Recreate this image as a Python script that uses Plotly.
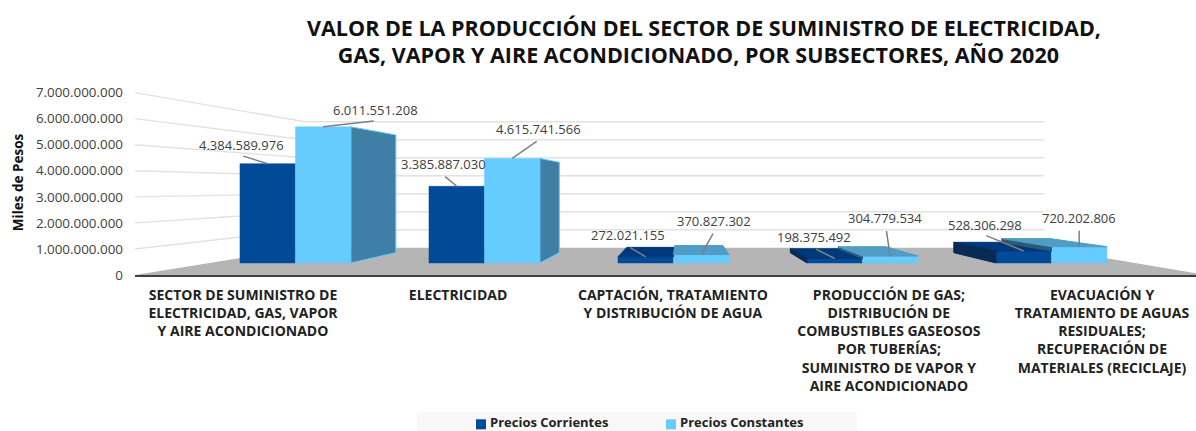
import plotly.graph_objects as go

categories = [
    "SECTOR DE SUMINISTRO DE<br>ELECTRICIDAD, GAS, VAPOR<br>Y AIRE ACONDICIONADO",
    "ELECTRICIDAD",
    "CAPTACIÓN, TRATAMIENTO<br>Y DISTRIBUCIÓN DE AGUA",
    "PRODUCCIÓN DE GAS;<br>DISTRIBUCIÓN DE<br>COMBUSTIBLES GASEOSOS<br>POR TUBERÍAS;<br>SUMINISTRO DE VAPOR Y<br>AIRE ACONDICIONADO",
    "EVACUACIÓN Y<br>TRATAMIENTO DE AGUAS<br>RESIDUALES;<br>RECUPERACIÓN DE<br>MATERIALES (RECICLAJE)",
]
corrientes = [4384589976, 3385887030, 272021155, 198375492, 528306298]
constantes = [6011551208, 4615741566, 370827302, 304779534, 720202806]
axis_ticks = [0, 1e9, 2e9, 3e9, 4e9, 5e9, 6e9, 7e9]

FONT = "Open Sans"
TXT = "#404040"
DARK, LIGHT = "#004A98", "#66CCFF"
DARK_TOP, LIGHT_TOP = "#00387C", "#4F9CC4"
DARK_LEFT, LIGHT_LEFT = "#0A2A55", "#2C5A78"
LIGHT_SIDE = "#3F7FA6"

# Perspective model. Primary axes: front plane of the floor.
WALL_T = 0.31
VX0, VY0 = 2.511, 3.385e9
FLOOR_X0, FLOOR_X1 = 0.0, 4.9
# Bar plane axes (x2, y2)
BAR_T = 0.135
VX2, VY2 = 2.055, 3.363e9
HALF = 0.2935


def prj(x, v, t, vx, vy):
    return x + t * (vx - x), v + t * (vy - v)


fig = go.Figure()

# Floor and walls on the primary axes
bl = prj(FLOOR_X0, 0, WALL_T, VX0, VY0)
br = prj(FLOOR_X1, 0, WALL_T, VX0, VY0)
fig.add_trace(go.Scatter(
    x=[FLOOR_X0, bl[0], br[0], FLOOR_X1, FLOOR_X0], y=[0, bl[1], br[1], 0, 0],
    mode="lines", fill="toself", fillcolor="#B5B5B5", line=dict(width=0),
    showlegend=False, hoverinfo="skip"))
gx, gy = [], []
for v in axis_ticks[1:]:
    a = prj(FLOOR_X0, v, WALL_T, VX0, VY0)
    b = prj(FLOOR_X1, v, WALL_T, VX0, VY0)
    gx += [FLOOR_X0, a[0], b[0], None]
    gy += [v, a[1], b[1], None]
fig.add_trace(go.Scatter(x=gx, y=gy, mode="lines", line=dict(color="#E2E2E2", width=1.4),
                         showlegend=False, hoverinfo="skip"))

# Front faces
ids = list(range(5))
fig.add_trace(go.Bar(name="Precios Corrientes", x=ids, y=corrientes, xaxis="x2", yaxis="y2",
                     showlegend=False, marker=dict(color=DARK, line=dict(color=DARK, width=0.5))))
fig.add_trace(go.Bar(name="Precios Constantes", x=ids, y=constantes, xaxis="x2", yaxis="y2",
                     showlegend=False, marker=dict(color=LIGHT, line=dict(color=LIGHT, width=0.5))))


def face_trace(polys, color, edge=None):
    xs, ys = [], []
    for p in polys:
        for q in p + [p[0]]:
            xs.append(q[0])
            ys.append(q[1])
        xs.append(None)
        ys.append(None)
    fig.add_trace(go.Scatter(x=xs, y=ys, xaxis="x2", yaxis="y2", mode="lines", fill="toself",
                             fillcolor=color, line=dict(color=edge or color, width=1),
                             showlegend=False, hoverinfo="skip"))


def top(x0, x1, v):
    return [(x0, v), (x1, v), prj(x1, v, BAR_T, VX2, VY2), prj(x0, v, BAR_T, VX2, VY2)]


def wall(x, v0, v1):
    return [(x, v0), (x, v1), prj(x, v1, BAR_T, VX2, VY2), prj(x, v0, BAR_T, VX2, VY2)]


dark_tops, dark_lefts, light_tops, light_lefts, light_rights = [], [], [], [], []
for i, (d, c) in enumerate(zip(corrientes, constantes)):
    xl, xm, xr = i - HALF, i, i + HALF
    if d < VY2:
        dark_tops.append(top(xl, xm, d))
    if c < VY2:
        light_tops.append(top(xm, xr, c))
    if xl > VX2:
        dark_lefts.append(wall(xl, 0, d))
    if xm > VX2 and c > d:
        light_lefts.append(wall(xm, d, c))
    if xr < VX2:
        light_rights.append(wall(xr, 0, c))

face_trace(dark_tops, DARK_TOP)
face_trace(dark_lefts, DARK_LEFT)
face_trace(light_lefts, LIGHT_LEFT)
face_trace(light_tops, LIGHT_TOP)
face_trace(light_rights, LIGHT_SIDE, LIGHT)

# Leader offsets in pixels relative to the top centre of each bar: tail dx, dy, text dx, dy
offs_d = [(-26, -8, -26, -19), (-13, -11, -13, -22), (-17, -10, -18, -22), (-20, -10, -21, -21), (-39, -16, -39, -26)]
offs_c = [(52, -6, 52, -17), (26, -18, 26, -29), (13, -23, 13, -34), (-4, -27, -5, -38), (0, -18, 0, -29)]
anns = []
for vals, offs, shift in ((corrientes, offs_d, -HALF / 2), (constantes, offs_c, HALF / 2)):
    for i, (v, o) in enumerate(zip(vals, offs)):
        x = i + shift
        anns.append(dict(x=x, y=v, xref="x2", yref="y2", text=" ", showarrow=True, arrowhead=0,
                         arrowwidth=1.5, arrowcolor="#7F7F7F", ax=o[0], ay=o[1], standoff=0,
                         font=dict(size=1)))
        anns.append(dict(x=x, y=v, xref="x2", yref="y2", text=f"{v:,}".replace(",", "."),
                         showarrow=True, arrowcolor="rgba(0,0,0,0)", arrowwidth=0.1, ax=o[2], ay=o[3],
                         font=dict(family=FONT, size=13, color=TXT)))

PX_PAPER_Y = lambda px: (275 - px) / (275 - 90.4)
PX_PAPER_X = lambda px: (px - 135) / 1061

# Legend key, drawn so the swatch sits tight against its label as in the reference
legend_items = [("Precios Corrientes", DARK, 476), ("Precios Constantes", LIGHT, 666)]
shapes = [dict(type="rect", xref="paper", yref="paper", x0=PX_PAPER_X(417), x1=PX_PAPER_X(857),
               y0=PX_PAPER_Y(431), y1=PX_PAPER_Y(412), fillcolor="#F8F8F8", line=dict(width=0), layer="below")]
for name, color, px in legend_items:
    shapes.append(dict(type="rect", xref="paper", yref="paper", x0=PX_PAPER_X(px), x1=PX_PAPER_X(px + 10),
                       y0=PX_PAPER_Y(429), y1=PX_PAPER_Y(419), fillcolor=color, line=dict(width=0)))
    anns.append(dict(xref="paper", yref="paper", x=PX_PAPER_X(px + 13), y=PX_PAPER_Y(422), text=name,
                     xanchor="left", yanchor="middle", showarrow=False, borderpad=0,
                     font=dict(family=FONT, size=13, color="#222222", weight="bold")))

fig.update_layout(
    width=1196, height=431, paper_bgcolor="white", plot_bgcolor="white",
    margin=dict(l=135, r=0, t=90.4, b=156),
    barmode="group", bargap=0.413, bargroupgap=0, separators=",.",
    font=dict(family=FONT, color=TXT), showlegend=False,
    title=dict(text="VALOR DE LA PRODUCCIÓN DEL SECTOR DE SUMINISTRO DE ELECTRICIDAD,<br>"
                    "GAS, VAPOR Y AIRE ACONDICIONADO, POR SUBSECTORES, AÑO 2020&nbsp;&nbsp;",
               x=704 / 1196, xanchor="center", y=1 - 35.5 / 431, yanchor="middle",
               font=dict(family=FONT, size=21.5, color="#111111", weight="bold")),
    xaxis=dict(range=[0, 4.854], tickvals=[0.494, 1.478, 2.461, 3.449, 4.424], ticktext=categories,
               showgrid=False, zeroline=False, showline=True, linecolor="#404040", linewidth=2,
               ticks="", tickangle=0, ticklabelstandoff=6,
               tickfont=dict(family=FONT, size=14, color="#222222", weight="bold")),
    yaxis=dict(range=[0, 7.1e9], tickvals=axis_ticks, tickformat=",d", showgrid=False, zeroline=False,
               showline=False, ticks="", ticklabelstandoff=11, tickfont=dict(family=FONT, size=13.4, color=TXT),
               title=dict(text="Miles de Pesos", standoff=9,
                          font=dict(family=FONT, size=13.5, color="#111111", weight="bold"))),
    xaxis2=dict(overlaying="x", range=[-0.849, 4.765], visible=False),
    yaxis2=dict(overlaying="y", range=[-0.531e9, 7.637e9], visible=False),
    shapes=shapes,
    annotations=anns,
)

fig.write_html("out.html", config={"displayModeBar": False},
               post_script="document.body.style.margin='0';")
